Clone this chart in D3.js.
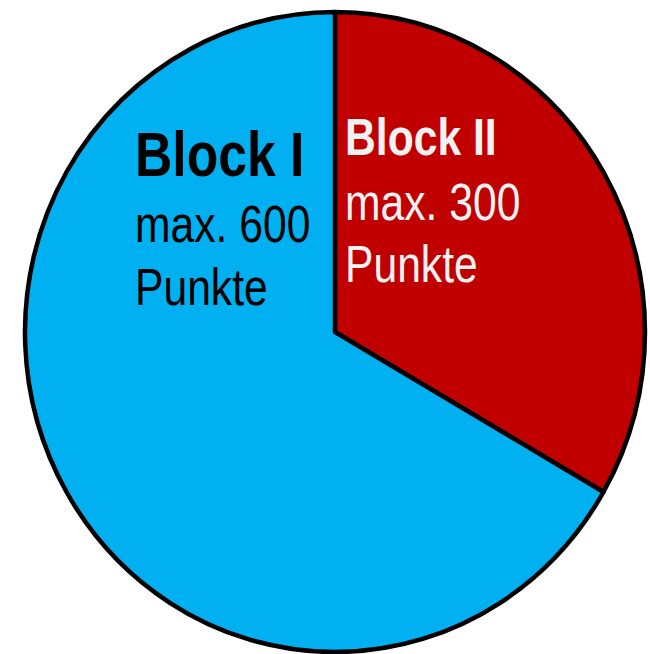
<!DOCTYPE html>
<html>
<head>
<meta charset="utf-8">
<script src="https://cdn.jsdelivr.net/npm/d3@7"></script>
<style>
  html, body { margin: 0; padding: 0; background: #fff; }
  svg { display: block; }
</style>
</head>
<body>
<svg id="chart" width="650" height="654"></svg>
<script>
const categories = ["Block II", "Block I"];
const values = [300, 600];
const subLabels = ["max. 300", "max. 600"];
const unitLabel = "Punkte";
const colors = ["#C00000", "#00B0F0"];
const textColors = ["#F2F2F2", "#000000"];

const svg = d3.select("#chart");
const cx = 335, cy = 332, rx = 310, ry = 320;

const pie = d3.pie().sort(null).value(d => d.value);
const arcs = pie(categories.map((c, i) => ({ name: c, value: values[i], i })));
const arc = d3.arc().innerRadius(0).outerRadius(rx);

const g = svg.append("g").attr("transform", `translate(${cx},${cy}) scale(1,${ry / rx})`);
g.selectAll("path")
  .data(arcs)
  .join("path")
  .attr("d", arc)
  .attr("fill", d => colors[d.data.i])
  .attr("stroke", "#000")
  .attr("stroke-width", 4.5)
  .attr("stroke-linejoin", "round")
  .attr("vector-effect", "non-scaling-stroke");

const font = "'Liberation Sans', Arial, sans-serif";
const narrow = 0.82;

const labelLayout = [
  { dx: 10, y0: 155 - cy, titleSize: 52, lineGap: [65, 62] },
  { dx: 135 - cx, y0: 176 - cy, titleSize: 63, lineGap: [66, 63] }
];

arcs.forEach(a => {
  const i = a.data.i;
  const L = labelLayout[i];
  const t = svg.append("g")
    .attr("transform", `translate(${cx + L.dx},${cy}) scale(${narrow},1)`)
    .append("text")
    .attr("font-family", font)
    .attr("fill", textColors[i]);
  t.append("tspan")
    .attr("x", 0).attr("y", L.y0)
    .attr("font-weight", "bold")
    .attr("font-size", L.titleSize)
    .text(categories[i]);
  t.append("tspan")
    .attr("x", 0).attr("y", L.y0 + L.lineGap[0])
    .attr("font-size", 52)
    .text(subLabels[i]);
  t.append("tspan")
    .attr("x", 0).attr("y", L.y0 + L.lineGap[0] + L.lineGap[1])
    .attr("font-size", 52)
    .text(unitLabel);
});
</script>
</body>
</html>
